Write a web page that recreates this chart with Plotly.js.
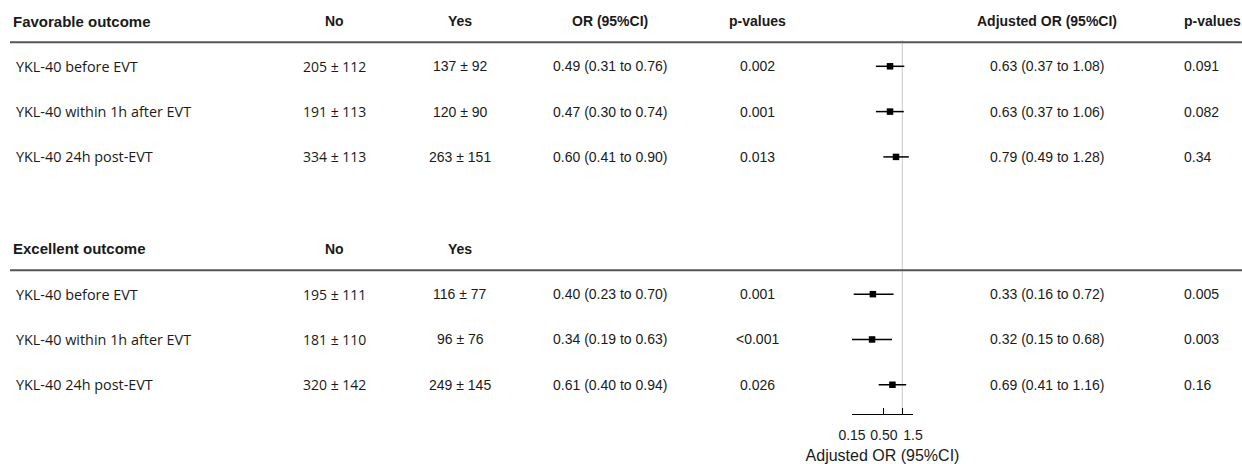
<!DOCTYPE html>
<html>
<head>
<meta charset="utf-8">
<script src="https://cdn.plot.ly/plotly-3.0.1.min.js"></script>
<style>html,body{margin:0;padding:0;background:#fff;} #chart{width:1242px;height:464px;}</style>
</head>
<body>
<div id="chart"></div>
<script>
// ---- data ----
var groupTitles = ['Favorable outcome', 'Excellent outcome'];
var rowLabels = ['YKL-40 before EVT', 'YKL-40 within 1h after EVT', 'YKL-40 24h post-EVT',
                 'YKL-40 before EVT', 'YKL-40 within 1h after EVT', 'YKL-40 24h post-EVT'];
var rowGroup = [0, 0, 0, 1, 1, 1];
var noVals  = ['205 ± 112', '191 ± 113', '334 ± 113', '195 ± 111', '181 ± 110', '320 ± 142'];
var yesVals = ['137 ± 92', '120 ± 90', '263 ± 151', '116 ± 77', '96 ± 76', '249 ± 145'];
var orVals  = [0.49, 0.47, 0.60, 0.40, 0.34, 0.61];
var orLo    = [0.31, 0.30, 0.41, 0.23, 0.19, 0.40];
var orHi    = [0.76, 0.74, 0.90, 0.70, 0.63, 0.94];
var pVals   = ['0.002', '0.001', '0.013', '0.001', '<0.001', '0.026'];
var adjOR   = [0.63, 0.63, 0.79, 0.33, 0.32, 0.69];
var adjLo   = [0.37, 0.37, 0.49, 0.16, 0.15, 0.41];
var adjHi   = [1.08, 1.06, 1.28, 0.72, 0.68, 1.16];
var adjP    = ['0.091', '0.082', '0.34', '0.005', '0.003', '0.16'];
var tickVals = [0.15, 0.5, 1, 1.5];
var tickText = ['0.15', '0.50', '', '1.5'];

// ---- layout constants ----
var W = 1242, H = 464;
var plotBottomPx = 414;           // x axis line
var slot = 45.3;                  // row spacing in px
var topPx = 21;                   // first header centre
var groupStart = [0, 5.03];       // header slot of each group
function px2v(p) { return (p - topPx) / slot; }
function fx(p) { return p / W; }

var rowY = rowLabels.map(function (_, i) {
  var g = rowGroup[i];
  var idx = rowGroup.slice(0, i).filter(function (x) { return x === g; }).length;
  return groupStart[g] + 1 + idx;
});

var ciText = function (o, l, h) { return o.toFixed(2) + ' (' + l.toFixed(2) + ' to ' + h.toFixed(2) + ')'; };

var arial = 'Liberation Sans, Arial, sans-serif';
var segoe = 'Open Sans, Noto Sans, sans-serif';
var txtCol = '#1a1a1a';

var ann = [];
function addText(text, xp, y, anchor, font, size, bold) {
  ann.push({
    text: bold ? '<b>' + text + '</b>' : text,
    x: fx(xp), xref: 'paper', xanchor: anchor,
    y: y, yref: 'y', yanchor: 'middle',
    showarrow: false, font: {family: font, size: size, color: txtCol}
  });
}

var colNo = 335, colYes = 460, colOR = 610, colP = 757, colAdj = 1047, colAdjP = 1182, colLabel = 14, colHead = 11;

groupTitles.forEach(function (t, g) {
  var y = groupStart[g];
  addText(t, colHead, y, 'left', arial, 15, true);
  addText('No', colNo, y, 'center', arial, 14, true);
  addText('Yes', colYes, y, 'center', arial, 14, true);
  if (g === 0) {
    addText('OR (95%CI)', colOR, y, 'center', arial, 14, true);
    addText('p-values', colP, y, 'center', arial, 14, true);
    addText('Adjusted OR (95%CI)', colAdj, y, 'center', arial, 14, true);
    addText('p-values', colAdjP, y, 'left', arial, 14, true);
  }
});

rowLabels.forEach(function (lab, i) {
  var y = rowY[i];
  addText(lab, colLabel, y, 'left', segoe, 14.4, false);
  addText(noVals[i], colNo, y, 'center', segoe, 14, false);
  addText(yesVals[i], colYes, y, 'center', arial, 14, false);
  addText(ciText(orVals[i], orLo[i], orHi[i]), colOR, y, 'center', arial, 14, false);
  addText(pVals[i], colP, y, 'center', arial, 14, false);
  addText(ciText(adjOR[i], adjLo[i], adjHi[i]), colAdj, y, 'center', arial, 14, false);
  addText(adjP[i], colAdjP, y, 'left', arial, 14, false);
});

var shapes = groupStart.map(function (gs) {
  return {type: 'line', xref: 'paper', yref: 'y', x0: fx(10), x1: 1, y0: gs + 0.47, y1: gs + 0.47,
          line: {color: '#555555', width: 2}};
});
shapes.push({type: 'line', xref: 'x', yref: 'y', x0: 1, x1: 1, y0: px2v(40), y1: px2v(plotBottomPx),
             line: {color: '#c8c8c8', width: 1}, layer: 'below'});

var trace = {
  type: 'scatter', mode: 'markers',
  x: adjOR, y: rowY,
  marker: {symbol: 'square', size: 6.5, color: '#000'},
  error_x: {type: 'data', symmetric: false,
            array: adjHi.map(function (h, i) { return h - adjOR[i]; }),
            arrayminus: adjLo.map(function (l, i) { return adjOR[i] - l; }),
            color: '#000', thickness: 1.5, width: 0},
  cliponaxis: false, hoverinfo: 'skip'
};

var layout = {
  width: W, height: H,
  margin: {l: 0, r: 0, t: 0, b: H - plotBottomPx, pad: 0},
  paper_bgcolor: '#fff', plot_bgcolor: 'rgba(0,0,0,0)',
  showlegend: false,
  xaxis: {
    type: 'log', domain: [fx(852), fx(913)],
    range: [Math.log10(0.15), Math.log10(1.5)],
    tickvals: tickVals, ticktext: tickText,
    ticks: 'inside', ticklen: 6, tickcolor: '#000', tickwidth: 1,
    showline: true, linecolor: '#000', linewidth: 1,
    showgrid: false, zeroline: false,
    tickfont: {family: arial, size: 14, color: txtCol},
    ticklabelstandoff: 8,
    title: {text: 'Adjusted OR (95%CI)', font: {family: arial, size: 16, color: txtCol}, standoff: 15},
    fixedrange: true
  },
  yaxis: {
    range: [px2v(plotBottomPx), px2v(0)],
    visible: false, showgrid: false, zeroline: false, fixedrange: true
  },
  annotations: ann,
  shapes: shapes
};

Plotly.newPlot('chart', [trace], layout, {staticPlot: true, displayModeBar: false});
</script>
</body>
</html>
